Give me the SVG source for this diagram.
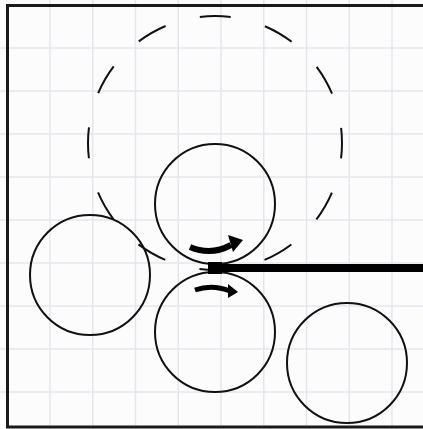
<svg xmlns="http://www.w3.org/2000/svg" width="423" height="429" viewBox="0 0 423 429">
<style>
.grid{stroke:#e4e6ee;stroke-width:1.5;fill:none}
.roller{fill:none;stroke:#111;stroke-width:2}
.dashed{fill:none;stroke:#111;stroke-width:2;stroke-dasharray:31 35.5;stroke-dashoffset:15.5}
.arrow{fill:none;stroke:#000;stroke-linecap:butt}
.head{fill:#000}
</style>
<rect width="423" height="429" fill="#fcfcfd"/>
<g id="grid" class="grid">
<path d="M50,0V429M92.75,0V429M135.5,0V429M178.25,0V429M221,0V429M263.75,0V429M306.5,0V429M349.25,0V429M392,0V429"/>
<path d="M0,48H423M0,91H423M0,134H423M0,177H423M0,220H423M0,263H423M0,306H423M0,349H423M0,392H423"/>
</g>
<path id="frame" d="M423,5.5H7.5V427H423" fill="none" stroke="#1a1a1a" stroke-width="3"/>
<g id="orbit"><circle class="dashed" cx="215" cy="143" r="127"/></g>
<g id="roller-top"><circle class="roller" cx="215" cy="204" r="60"/></g>
<g id="roller-bottom"><circle class="roller" cx="215" cy="332" r="60"/></g>
<g id="roller-left"><circle class="roller" cx="90" cy="275" r="60"/></g>
<g id="roller-right"><circle class="roller" cx="347" cy="363" r="60"/></g>
<g id="strip">
<rect x="208" y="262" width="14" height="12" fill="#000"/>
<rect x="208" y="264" width="215" height="8" fill="#000"/>
</g>
<g id="connectors">
<path class="arrow" d="M190,247 Q211,256 231,245" stroke-width="6"/>
<polygon class="head" points="228,235 243,240 233,252"/>
<path class="arrow" d="M195,290 Q212,284 230,291" stroke-width="5"/>
<polygon class="head" points="228,284 238,292 228,298"/>
</g>
</svg>
